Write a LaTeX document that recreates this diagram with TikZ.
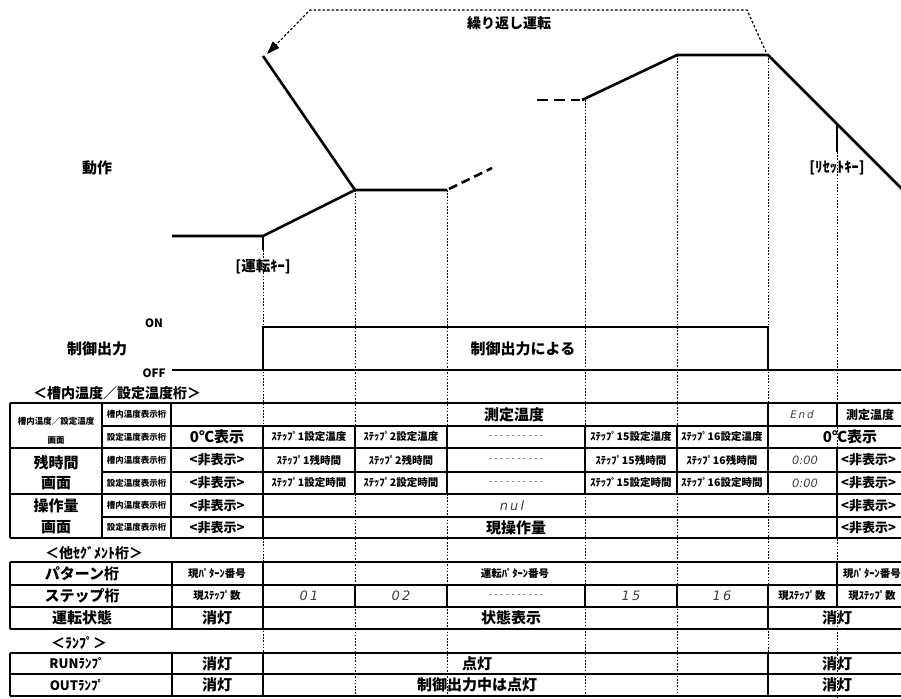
\documentclass[tikz,border=0pt]{standalone}
\usepackage{fontspec}
\setmainfont{Noto Sans CJK JP}
\newfontfamily\segfont{DejaVu Sans}
\newfontfamily\dashfont{DejaVu Sans Mono}
\usetikzlibrary{arrows.meta}
\newcommand\fz[1]{\fontsize{#1}{#1}\selectfont}
\begin{document}
\begin{tikzpicture}[x=1pt,y=-1pt,
  wave/.style={line width=2.6pt,line join=miter},
  ctrl/.style={line width=1.8pt},
  tbl/.style={line width=1.2pt},
  vdot/.style={line width=0.8pt,dash pattern=on 1.6pt off 1.6pt},
  lbl/.style={inner sep=0pt,font=\fz{15}\bfseries},
  hdr/.style={inner sep=0pt,font=\fz{14}\bfseries},
  med/.style={inner sep=0pt,font=\fz{13}\bfseries},
  keyl/.style={inner sep=0pt,font=\fz{14.5}\bfseries},
  mid/.style={inner sep=0pt,font=\fz{10.5}\bfseries},
  tiny/.style={inner sep=0pt,font=\fz{8.5}\bfseries},
  seg/.style={inner sep=0pt,font=\fz{13}\segfont\itshape,text=black!75},
  dsh/.style={inner sep=0pt,font=\fz{9.5}\dashfont,text=black!60},
]
\useasboundingbox (0,0) rectangle (901,698);
\fill[white] (0,0) rectangle (901,698);

% ---- time marker dotted verticals
\foreach \xx/\yy in {263/250,355/190,447/190,585/100,677/55,768/55,837/152}
  \draw[vdot] (\xx,\yy) -- (\xx,698);

% ---- operation curve
\coordinate (p0) at (172,236);
\coordinate (p1) at (263,236);
\coordinate (p2) at (355,190);
\coordinate (p3) at (447,190);
\coordinate (p4) at (582,100);
\coordinate (p5) at (677,55);
\coordinate (p6) at (768,55);
\coordinate (p7) at (905,192);
\coordinate (top) at (263,56);
\draw[wave] (p0) -- (p1) -- (p2) -- (p3);
\draw[wave] (p1) -- (263,250);
\draw[wave] (top) -- (p2);
\draw[wave,dash pattern=on 9pt off 5pt] (449,189) -- (492,168);
\draw[wave,dash pattern=on 11pt off 6pt] (537,100) -- (580,100);
\draw[wave] (p4) -- (p5) -- (p6) -- (p7);
\draw[wave] (837,124) -- (837,152);

% ---- repeat arrow
\draw[line width=1.2pt,dash pattern=on 2.5pt off 2pt,
      -{Triangle[length=13pt,width=9pt]}]
  (766,52) -- (747,10) -- (310,10) -- (267,54);
\node[hdr] (rep) at (509,23) {繰り返し運転};

\node[lbl] (dosa) at (97,168) {動作};
\node[keyl] (runkey) at (263,267) {[運転ｷｰ]};
\node[keyl] (rstkey) at (837,168) {[ﾘｾｯﾄｷｰ]};

% ---- control output
\draw[ctrl] (172,370) -- (901,370);
\draw[ctrl] (263,370) -- (263,327) -- (768,327) -- (768,370);
\node[inner sep=0pt,font=\fz{11.5}\bfseries] (on) at (154,323) {ON};
\node[inner sep=0pt,font=\fz{11.5}\bfseries] (off) at (154,373) {OFF};
\node[lbl] (ctl) at (97,349) {制御出力};
\node[lbl] (byctl) at (523,349) {制御出力による};

% ---- table 1
\node[hdr] (h1) at (117,393) {＜槽内温度／設定温度桁＞};
\foreach \yy in {403,448,494,538} \draw[tbl] (10,\yy) -- (901,\yy);
\foreach \yy in {426,472,517} \draw[tbl] (102,\yy) -- (901,\yy);
\foreach \xx in {10,102,171} \draw[tbl] (\xx,403) -- (\xx,538);
\draw[tbl] (263,426) -- (263,538);
\foreach \xx in {355,447,585,677} \draw[tbl] (\xx,426) -- (\xx,494);
\draw[tbl] (768,403) -- (768,494);
\draw[tbl] (837,403) -- (837,426);
\draw[tbl] (837,448) -- (837,538);

\node[tiny] (a1) at (56,421) {槽内温度／設定温度};
\node[tiny] (a2) at (56,440) {画面};
\node[lbl] (b1) at (56,463) {残時間};
\node[lbl] (b2) at (56,483) {画面};
\node[lbl] (c1) at (56,506) {操作量};
\node[lbl] (c2) at (56,527) {画面};
\node[tiny] (k1) at (136.5,414.5) {槽内温度表示桁};
\node[tiny] (k2) at (136.5,437) {設定温度表示桁};
\node[tiny] (k3) at (136.5,460) {槽内温度表示桁};
\node[tiny] (k4) at (136.5,483) {設定温度表示桁};
\node[tiny] (k5) at (136.5,505.5) {槽内温度表示桁};
\node[tiny] (k6) at (136.5,527.5) {設定温度表示桁};

\node[lbl] (t1a) at (217,437) {0℃表示};
\node[med] (t1b) at (217,460) {<非表示>};
\node[med] (t1c) at (217,483) {<非表示>};
\node[med] (t1d) at (217,505.5) {<非表示>};
\node[med] (t1e) at (217,527.5) {<非表示>};

\node[mid] (s1t) at (309,437) {ｽﾃｯﾌﾟ1設定温度};
\node[mid] (s2t) at (401,437) {ｽﾃｯﾌﾟ2設定温度};
\node[dsh] (dd1) at (516,437) {----------};
\node[mid] (s15t) at (631,437) {ｽﾃｯﾌﾟ15設定温度};
\node[mid] (s16t) at (722,437) {ｽﾃｯﾌﾟ16設定温度};
\node[mid] (s1r) at (309,460) {ｽﾃｯﾌﾟ1残時間};
\node[mid] (s2r) at (401,460) {ｽﾃｯﾌﾟ2残時間};
\node[dsh] (dd2) at (516,460) {----------};
\node[mid] (s15r) at (631,460) {ｽﾃｯﾌﾟ15残時間};
\node[mid] (s16r) at (722,460) {ｽﾃｯﾌﾟ16残時間};
\node[mid] (s1s) at (309,483) {ｽﾃｯﾌﾟ1設定時間};
\node[mid] (s2s) at (401,483) {ｽﾃｯﾌﾟ2設定時間};
\node[dsh] (dd3) at (516,483) {----------};
\node[mid] (s15s) at (631,483) {ｽﾃｯﾌﾟ15設定時間};
\node[mid] (s16s) at (722,483) {ｽﾃｯﾌﾟ16設定時間};

\node[lbl] (meas) at (514,414.5) {測定温度};
\node[seg] (nul) at (512,505.5) {n\,u\,l};
\node[lbl] (mv) at (516,527.5) {現操作量};

\node[seg,font=\fz{10.5}\segfont\itshape] (endv) at (802,414.5) {E\,n\,d};
\node[inner sep=0pt,font=\fz{12}\bfseries] (meas2) at (870,414.5) {測定温度};
\node[lbl] (zero2) at (850,437) {0℃表示};
\node[seg,font=\fz{11.5}\segfont\itshape] (z1) at (805,460) {0:00};
\node[seg,font=\fz{11.5}\segfont\itshape] (z2) at (805,483) {0:00};
\node[med,anchor=west] (r3) at (841,460) {<非表示>};
\node[med,anchor=west] (r4) at (841,483) {<非表示>};
\node[med,anchor=west] (r5) at (841,505.5) {<非表示>};
\node[med,anchor=west] (r6) at (841,527.5) {<非表示>};

% ---- table 2
\node[hdr] (h2) at (94,553) {＜他ｾｸﾞﾒﾝﾄ桁＞};
\foreach \yy in {562,585,607,629} \draw[tbl] (10,\yy) -- (901,\yy);
\foreach \xx in {10,172,263} \draw[tbl] (\xx,562) -- (\xx,629);
\foreach \xx in {355,447,585,677} \draw[tbl] (\xx,585) -- (\xx,607);
\draw[tbl] (768,585) -- (768,629);
\draw[tbl] (837,562) -- (837,607);

\node[lbl] (pk) at (82,573.5) {パターン桁};
\node[lbl] (sk) at (82,596) {ステップ桁};
\node[lbl] (uj) at (82,618) {運転状態};
\node[mid] (cp) at (217,573.5) {現ﾊﾟﾀｰﾝ番号};
\node[mid] (cs) at (217,596) {現ｽﾃｯﾌﾟ数};
\node[lbl] (off1) at (217,618) {消灯};
\node[mid] (rp) at (515,573.5) {運転ﾊﾟﾀｰﾝ番号};
\node[seg] (n01) at (309,596) {0\,1};
\node[seg] (n02) at (401,596) {0\,2};
\node[dsh] (dd4) at (516,596) {----------};
\node[seg] (n15) at (631,596) {1\,5};
\node[seg] (n16) at (722,596) {1\,6};
\node[mid] (cs2) at (802,596) {現ｽﾃｯﾌﾟ数};
\node[mid] (cp3) at (872,573.5) {現ﾊﾟﾀｰﾝ番号};
\node[mid] (cs3) at (872,596) {現ｽﾃｯﾌﾟ数};
\node[lbl] (st) at (511,618) {状態表示};
\node[lbl] (off2) at (837,618) {消灯};

% ---- table 3
\node[hdr] (h3) at (79,643) {＜ﾗﾝﾌﾟ＞};
\foreach \yy in {653,674,696} \draw[tbl] (10,\yy) -- (901,\yy);
\foreach \xx in {10,172,263,768} \draw[tbl] (\xx,653) -- (\xx,696);
\node[med] (runl) at (77,663.5) {RUNﾗﾝﾌﾟ};
\node[med] (outl) at (77,685) {OUTﾗﾝﾌﾟ};
\node[lbl] (off3) at (217,663.5) {消灯};
\node[lbl] (off4) at (217,685) {消灯};
\node[lbl] (lit) at (477,663.5) {点灯};
\node[lbl] (litc) at (477,685) {制御出力中は点灯};
\node[lbl] (off5) at (837,663.5) {消灯};
\node[lbl] (off6) at (837,685) {消灯};
\end{tikzpicture}
\end{document}
